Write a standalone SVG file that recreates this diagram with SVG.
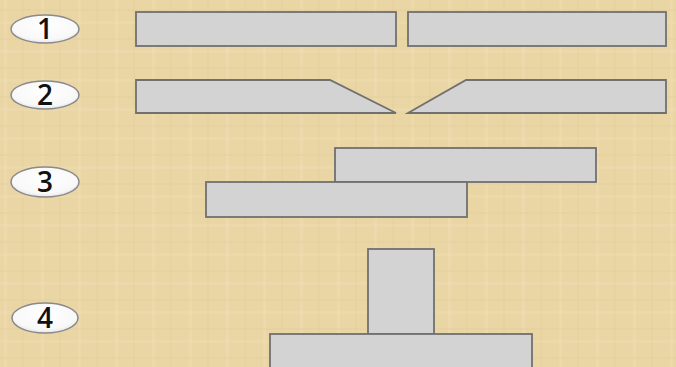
<svg xmlns="http://www.w3.org/2000/svg" width="676" height="367" viewBox="0 0 676 367">
<defs>
<style>
.plate{fill:#D3D3D3;stroke:#707070;stroke-width:1.8;stroke-linejoin:miter}
.badge{fill:url(#bg);stroke:#8A8A8A;stroke-width:1.5}
.num{font-family:"Open Sans","DejaVu Sans",sans-serif;font-size:28px;font-weight:600;fill:#111;text-anchor:middle}
</style>
<radialGradient id="bg" cx="0.5" cy="0.4" r="0.6">
<stop offset="0" stop-color="#FFFFFF"/>
<stop offset="0.8" stop-color="#F8F8F8"/>
<stop offset="1" stop-color="#E4E4E4"/>
</radialGradient>
<pattern id="tex" width="37" height="29" patternUnits="userSpaceOnUse">
<rect width="37" height="29" fill="#EAD5A5"/>
<rect x="4" width="3" height="29" fill="#F0DDB2" opacity="0.5"/>
<rect x="22" width="2" height="29" fill="#E2CA96" opacity="0.35"/>
<rect y="9" width="37" height="2" fill="#E3CC98" opacity="0.3"/>
<rect y="21" width="37" height="3" fill="#F1E0B8" opacity="0.35"/>
</pattern>
</defs>
<rect width="676" height="367" fill="url(#tex)"/>
<g id="labels">
<g id="badge1"><ellipse class="badge" cx="45" cy="29" rx="34" ry="14"/><text class="num" x="45" y="39">1</text></g>
<g id="badge2"><ellipse class="badge" cx="45" cy="95" rx="34" ry="14"/><text class="num" x="45" y="105">2</text></g>
<g id="badge3"><ellipse class="badge" cx="45" cy="182" rx="34" ry="15"/><text class="num" x="45" y="192">3</text></g>
<g id="badge4"><ellipse class="badge" cx="45" cy="318" rx="33" ry="15"/><text class="num" x="45" y="328">4</text></g>
</g>
<g id="row1">
<rect class="plate" x="136" y="12" width="260" height="34"/>
<rect class="plate" x="408" y="12" width="258" height="34"/>
</g>
<g id="row2">
<polygon class="plate" points="136,80 330,80 396,113 136,113"/>
<polygon class="plate" points="408,113 466,80 666,80 666,113"/>
</g>
<g id="row3">
<rect class="plate" x="335" y="148" width="261" height="34"/>
<rect class="plate" x="206" y="182" width="261" height="35"/>
</g>
<g id="row4">
<rect class="plate" x="368" y="249" width="66" height="85"/>
<rect class="plate" x="270" y="334" width="262" height="40"/>
</g>
<g id="connectors"/>
</svg>
